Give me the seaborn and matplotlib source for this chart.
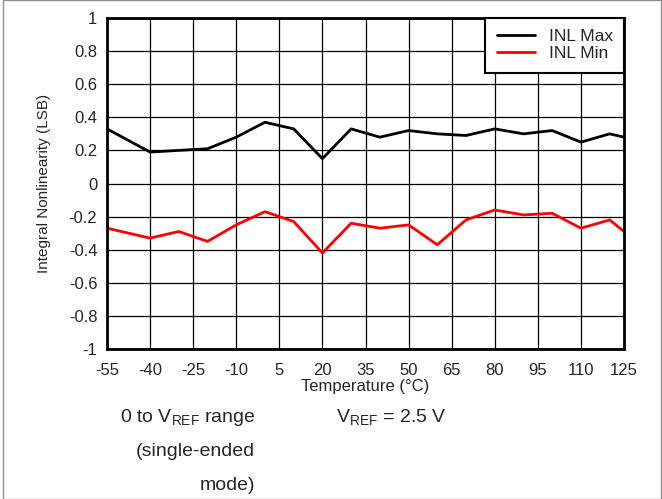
import seaborn as sns
from matplotlib import pyplot as plt
from matplotlib.patches import Rectangle
import pandas as pd

# Values
temps = [-55, -40, -30, -20, -10, 0, 10, 20, 30, 40, 50, 60, 70, 80, 90, 100, 110, 120, 125]
inl_max = [0.33, 0.19, 0.20, 0.21, 0.28, 0.37, 0.33, 0.15, 0.33, 0.28, 0.32, 0.30, 0.29, 0.33, 0.30, 0.32, 0.25, 0.30, 0.28]
inl_min = [-0.27, -0.33, -0.29, -0.35, -0.25, -0.17, -0.23, -0.42, -0.24, -0.27, -0.25, -0.37, -0.22, -0.16, -0.19, -0.18, -0.27, -0.22, -0.29]
x_ticks = [-55, -40, -25, -10, 5, 20, 35, 50, 65, 80, 95, 110, 125]
y_ticks = [-1, -0.8, -0.6, -0.4, -0.2, 0, 0.2, 0.4, 0.6, 0.8, 1]
y_labels = ['-1', '-0.8', '-0.6', '-0.4', '-0.2', '0', '0.2', '0.4', '0.6', '0.8', '1']

df = pd.DataFrame({'Temperature': temps, 'INL Max': inl_max, 'INL Min': inl_min})

sns.set_style('white')
plt.rcParams['font.family'] = ['Liberation Sans', 'DejaVu Sans']
plt.rcParams['axes.unicode_minus'] = False

fig = plt.figure(figsize=(6.62, 4.99), dpi=100)
ax = fig.add_axes([107 / 662, 1 - 349 / 499, 517 / 662, 331 / 499])

sns.lineplot(data=df, x='Temperature', y='INL Max', color='black', lw=2, label='INL Max', ax=ax)
sns.lineplot(data=df, x='Temperature', y='INL Min', color='red', lw=2, label='INL Min', ax=ax)

ax.set_xlim(-55, 125)
ax.set_ylim(-1, 1)
ax.set_xticks(x_ticks)
ax.set_xticklabels([str(t) for t in x_ticks])
ax.set_yticks(y_ticks)
ax.set_yticklabels(y_labels)
ax.tick_params(axis='y', labelsize=12, length=0, pad=7)
ax.tick_params(axis='x', labelsize=12, length=0, pad=10)
ax.grid(True, color='black', lw=0.9)
for s in ax.spines.values():
    s.set_color('black')
    s.set_linewidth(2)

ax.set_xlabel('Temperature (°C)', fontsize=12, labelpad=1)
ax.set_ylabel('Integral Nonlinearity (LSB)', fontsize=11, labelpad=13)

leg = ax.legend(loc='upper right', fontsize=12.5, frameon=True, fancybox=False,
                borderaxespad=0, handlelength=2.2, handletextpad=0.8,
                borderpad=0.65, labelspacing=0.1)
leg.get_frame().set_edgecolor('black')
leg.get_frame().set_linewidth(1.5)
leg.get_frame().set_alpha(1)

# notes under the chart
fig.text(255 / 662, 1 - 418 / 499, r'0 to V$_{\mathregular{REF}}$ range', ha='right', va='center', fontsize=14)
fig.text(255 / 662, 1 - 452 / 499, '(single-ended', ha='right', va='center', fontsize=14)
fig.text(255 / 662, 1 - 486 / 499, 'mode)', ha='right', va='center', fontsize=14)
fig.text(336 / 662, 1 - 418 / 499, r'V$_{\mathregular{REF}}$ = 2.5 V', ha='left', va='center', fontsize=14)

# thin grey frame round the whole figure
fig.patches.append(Rectangle((0.004, 0.001), 0.995, 0.998, transform=fig.transFigure,
                             fill=False, edgecolor='#909090', lw=1))

fig.savefig('out.png', dpi=100)
